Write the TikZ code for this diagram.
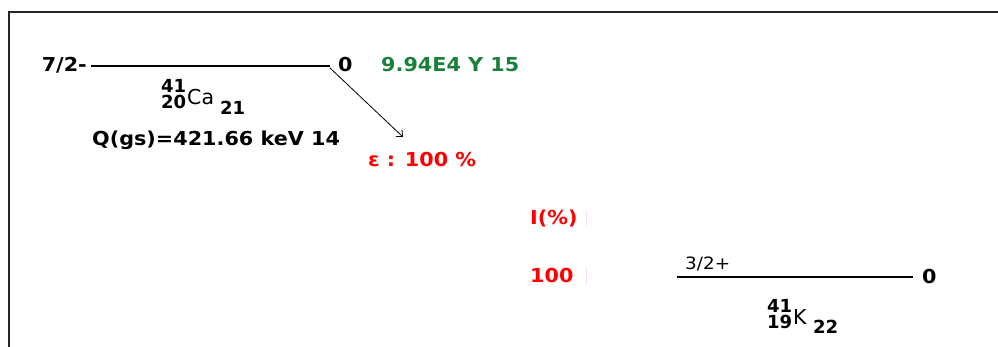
\documentclass[tikz,border=0pt]{standalone}
\usepackage{fontspec}
\usetikzlibrary{arrows.meta}
\newfontfamily\djvfont[FakeStretch=1.08]{DejaVu Sans}
\newfontfamily\djvplain{DejaVu Sans}
\definecolor{hlgreen}{RGB}{25,128,60}
\begin{document}
\begin{tikzpicture}[x=1pt,y=-1pt,
  lbl/.style={inner sep=0pt,font=\djvfont\bfseries\fontsize{19.2}{19.2}\selectfont},
  nuc/.style={inner sep=0pt,align=left,font=\djvplain\bfseries\fontsize{18}{16}\selectfont},
  sym/.style={inner sep=0pt,font=\djvplain\fontsize{20.5}{20.5}\selectfont},
  spin/.style={inner sep=0pt,font=\djvfont\fontsize{17}{17}\selectfont},
  level/.style={line width=1.1pt},
  tick/.style={red!12,line width=0.8pt}]
\useasboundingbox (0,0) rectangle (998,347);
% frame
\draw[line width=1.6pt,black!85] (9,348) -- (9,12) -- (999,12);
% parent level
\coordinate (pL) at (91,66);
\coordinate (pR) at (330,66);
\draw[level] (pL) -- (pR);
\node[lbl,anchor=east] (pspin) at (87,65) {7/2-};
\node[lbl,anchor=west] (pE) at (338,65) {0};
\node[lbl,anchor=west,text=hlgreen] (thalf) at (381,65) {9.94E4 Y 15};
% parent nuclide
\node[nuc,anchor=west] (pAZ) at (161,94) {41\\20};
\node[sym,anchor=west] (pX) at (187,97) {Ca};
\node[nuc,anchor=west] (pN) at (220,108) {21};
\node[lbl,anchor=west] (q) at (92,140) {Q(gs)=421.66 keV 14};
% decay arrow
\coordinate (aS) at (330,68);
\coordinate (aE) at (403,137);
\draw[line width=0.8pt,-{Straight Barb[length=5pt,width=9pt]}] (aS) -- (aE);
\node[lbl,anchor=west,text=red] (ec) at (368,160) {ε : 100 \%};
% intensity column
\node[lbl,anchor=west,text=red] (ihead) at (530,218) {I(\%)};
\node[lbl,anchor=west,text=red] (ival) at (530,276) {100};
\coordinate (t1a) at (586,210); \coordinate (t1b) at (586,226);
\coordinate (t2a) at (586,268); \coordinate (t2b) at (586,284);
\draw[tick] (t1a) -- (t1b);
\draw[tick] (t2a) -- (t2b);
% daughter level
\coordinate (dL) at (677,277);
\coordinate (dR) at (913,277);
\draw[level] (dL) -- (dR);
\node[spin,anchor=west] (dspin) at (685,264) {3/2+};
\node[lbl,anchor=west] (dE) at (922,277) {0};
% daughter nuclide
\node[nuc,anchor=west] (dAZ) at (767,314) {41\\19};
\node[sym,anchor=west] (dX) at (793,317) {K};
\node[nuc,anchor=west] (dN) at (813,327) {22};
\end{tikzpicture}
\end{document}
